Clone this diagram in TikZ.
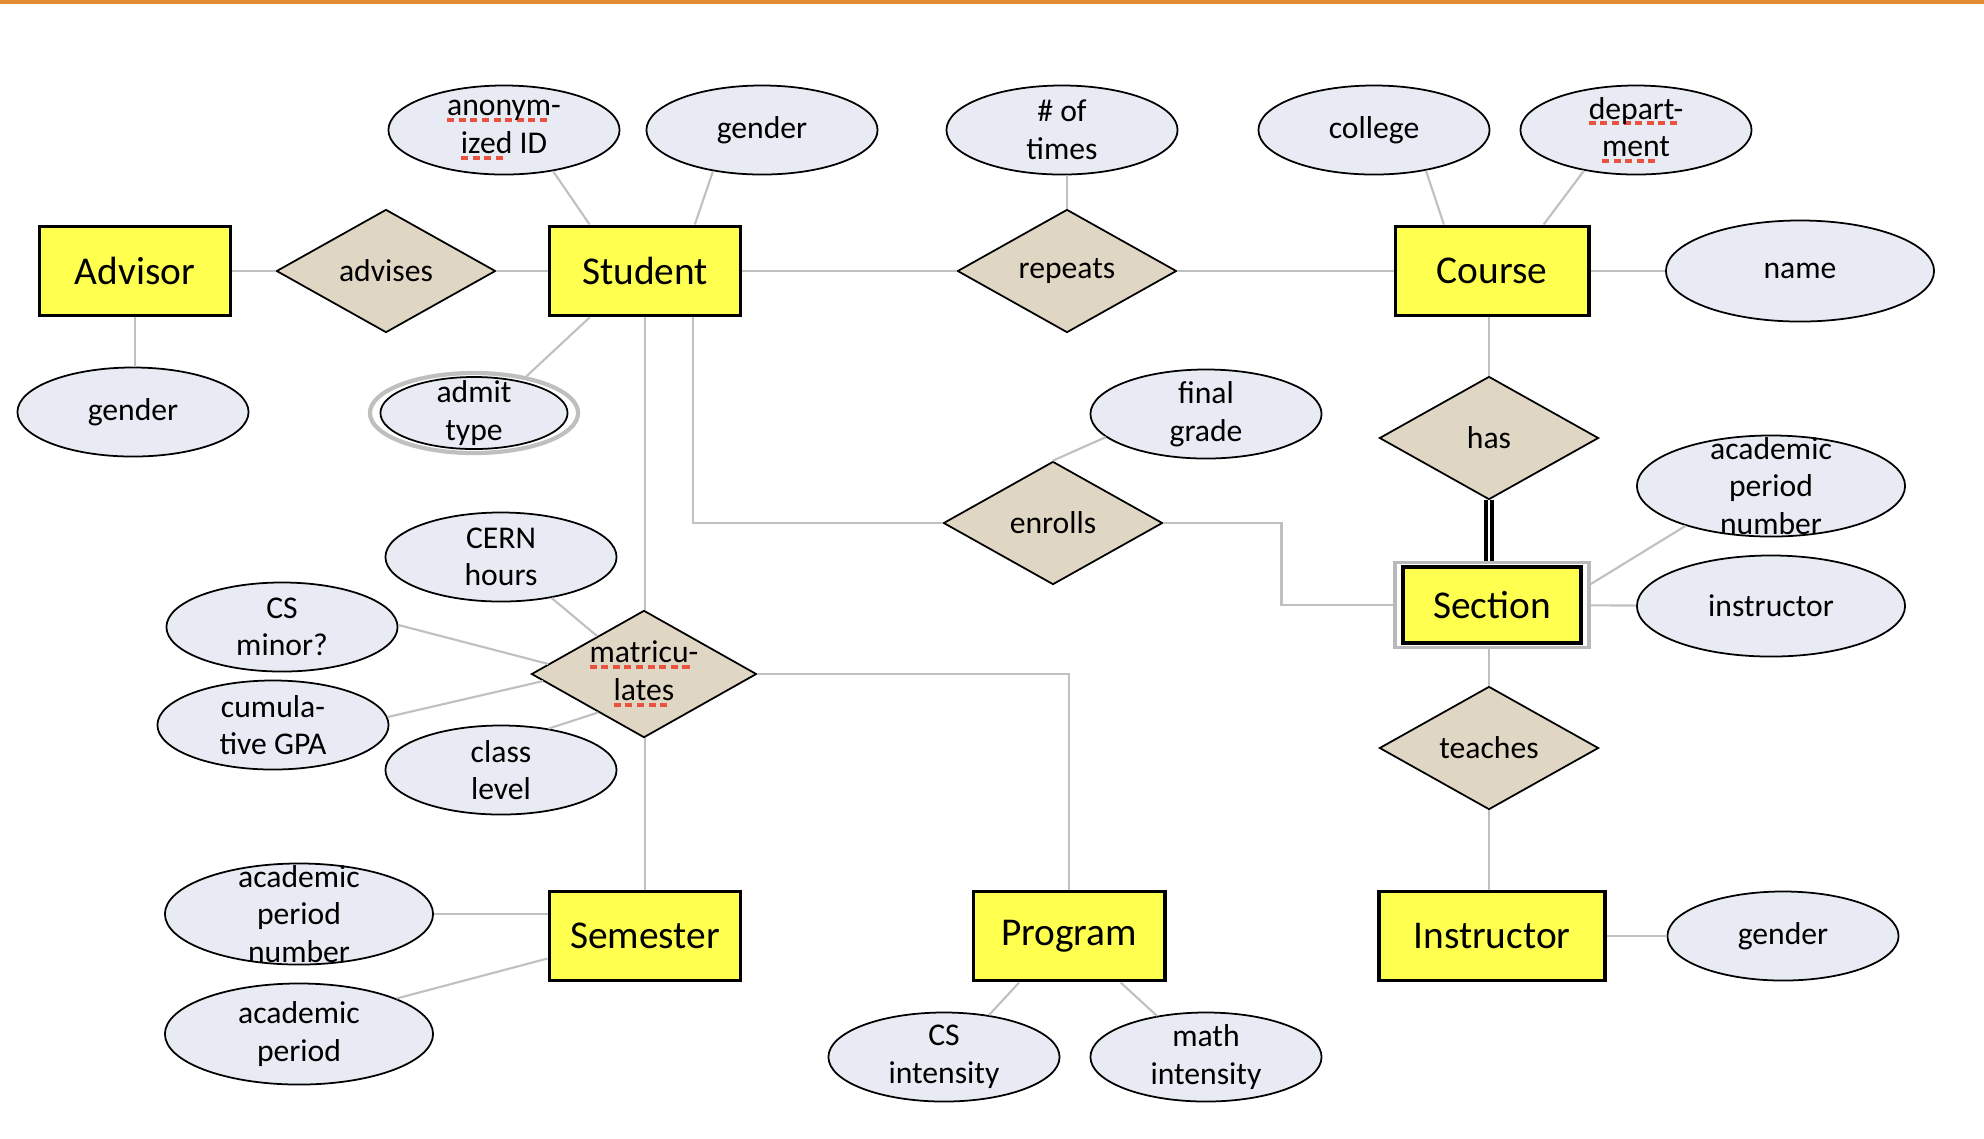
\documentclass[tikz,border=0pt]{standalone}
\usepackage{fontspec}
\setmainfont{Carlito}
\usetikzlibrary{shapes.geometric,calc}

\definecolor{entfill}{RGB}{255,255,80}
\definecolor{relfill}{RGB}{224,214,196}
\definecolor{attfill}{RGB}{232,235,243}
\definecolor{linkgray}{RGB}{192,192,192}
\definecolor{spellred}{RGB}{232,82,62}
\definecolor{topline}{RGB}{226,140,52}

\newlength\spellwd
\newcommand\spell[1]{\settowidth\spellwd{#1}\rlap{\color{spellred}\raisebox{-1.8pt}{\leaders\hbox to 3.3pt{\rule{2pt}{1.1pt}\hfil}\hskip\spellwd}}#1}

\tikzset{
	entity/.style={draw, rectangle, fill=entfill, line width=1.1pt, minimum width=1.91cm, minimum height=0.89cm, inner sep=0pt, font=\fontsize{11.2}{13}\selectfont},
	relation/.style={draw, diamond, fill=relfill, line width=0.5pt, aspect=1.77, minimum width=2.19cm, minimum height=1.23cm, inner sep=0pt, align=center, font=\fontsize{9}{10.7}\selectfont},
	attrib/.style={draw, ellipse, fill=attfill, line width=0.5pt, minimum width=2.31cm, minimum height=0.89cm, inner xsep=0pt, inner ysep=-10pt, align=center, font=\fontsize{9}{10.7}\selectfont},
	bigattrib/.style={attrib, minimum width=2.68cm, minimum height=1.01cm},
	link/.style={draw=linkgray, line width=0.6pt},
}

\begin{document}
\begin{tikzpicture}[x=0.01cm, y=-0.01cm]
		\useasboundingbox (0,0) rectangle (1984,1138);
		\fill[topline] (0,0) rectangle (1984,3.5);
		\node (advisor)[entity] at (135,271) {Advisor};
		\node (student)[entity] at (645,271) {Student};
		\node (course)[entity, minimum width=1.93cm] at (1492,271) {Course};
		\node (secbox)[draw=gray!55, line width=1pt, minimum width=1.94cm, minimum height=0.85cm] at (1492,605) {};
		\node (section)[entity, minimum width=1.78cm, minimum height=0.76cm] at (1492,605) {Section};
		\node (semester)[entity] at (645,936) {Semester};
		\node (program)[entity] at (1069,936) {Program};
		\node (instructor)[entity, minimum width=2.26cm] at (1492,936) {Instructor};
		\node (advises)[relation] at (386,271) {advises};
		\node (repeats)[relation] at (1067,271) {repeats};
		\node (has)[relation] at (1489,438) {has};
		\node (enrolls)[relation] at (1053,523) {enrolls};
		\node (matric)[relation] at (644,674) {\spell{matricu-}\\\spell{lates}};
		\node (teaches)[relation] at (1489,748) {teaches};
		\node (anonid)[attrib] at (504,130) {\spell{anonym-}\\\spell{ized} ID};
		\node (sgender)[attrib] at (762,130) {gender};
		\node (times)[attrib] at (1062,130) {\# of\\times};
		\node (college)[attrib] at (1374,130) {college};
		\node (dept)[attrib] at (1636,130) {\spell{depart-}\\\spell{ment}};
		\node (name)[bigattrib] at (1800,271) {name};
		\node (agender)[attrib] at (133,412) {gender};
		\node (admitring)[draw=gray!50, line width=1.2pt, ellipse, minimum width=2.08cm, minimum height=0.80cm] at (474,413) {};
		\node (admit)[attrib, minimum width=1.87cm, minimum height=0.72cm] at (474,413) {admit\\type};
		\node (grade)[attrib] at (1206,414) {final\\grade};
		\node (secnum)[bigattrib] at (1771,486) {academic\\period\\number};
		\node (secinstr)[bigattrib] at (1771,606) {instructor};
		\node (cern)[attrib] at (501,557) {CERN\\hours};
		\node (minor)[attrib] at (282,627) {CS\\minor?};
		\node (gpa)[attrib] at (273,725) {cumula-\\tive GPA};
		\node (level)[attrib] at (501,770) {class\\level};
		\node (semnum)[bigattrib] at (299,914) {academic\\period\\number};
		\node (period)[bigattrib] at (299,1034) {academic\\period};
		\node (csint)[attrib] at (944,1057) {CS\\intensity};
		\node (mathint)[attrib] at (1206,1057) {math\\intensity};
		\node (igender)[attrib] at (1783,936) {gender};
		\draw[link] (advisor)--(advises);
		\draw[link] (advises)--(student);
		\draw[link] (advisor.south)--(advisor.south |- agender.north);
		\draw[link] (anonid.-40)--(student.140);
		\draw[link] (sgender.220)--(student.43);
		\draw[link] (student)--(repeats);
		\draw[link] (repeats)--(course);
		\draw[link] (repeats.north)--(repeats.north |- times.south);
		\draw[link] (college.-38)--(course.136);
		\draw[link] (dept.218)--(course.42);
		\draw[link] (course)--(name);
		\draw[link] (has.north)--(has.north |- course.south);
		\draw[black, line width=1.1pt, double=white, double distance=0.75pt] (has.south)--(has.south |- secbox.north);
		\draw[link] (student.220)--(admitring.35);
		\draw[link] (student.south)--(student.south |- matric.north);
		\draw[link] ($(student.south)+(48,0)$) |- (enrolls.west);
		\draw[link] (enrolls.east) -- ++(118,0) |- (secbox.west);
		\draw[link] (enrolls.north)--(grade.193);
		\draw[link] (secbox.12)--(secnum.205);
		\draw[link] (secbox)--(secinstr);
		\draw[link] (teaches.north)--(teaches.north |- secbox.south);
		\draw[link] (teaches.south)--(teaches.south |- instructor.north);
		\draw[link] (instructor)--(igender);
		\draw[link] (cern.-39)--(matric.141);
		\draw[link] (minor.1)--(matric.174);
		\draw[link] (gpa.4)--(matric.184);
		\draw[link] (level.41)--(matric.220);
		\draw[link] (semester.north)--(semester.north |- matric.south);
		\draw[link] (matric.east) -| (program.north);
		\draw[link] (semnum.east)--(semnum.east -| semester.west);
		\draw[link] (period.20)--(semester.193);
		\draw[link] (program.223)--(csint.43);
		\draw[link] (program.-42)--(mathint.140);
	\end{tikzpicture}
\end{document}
